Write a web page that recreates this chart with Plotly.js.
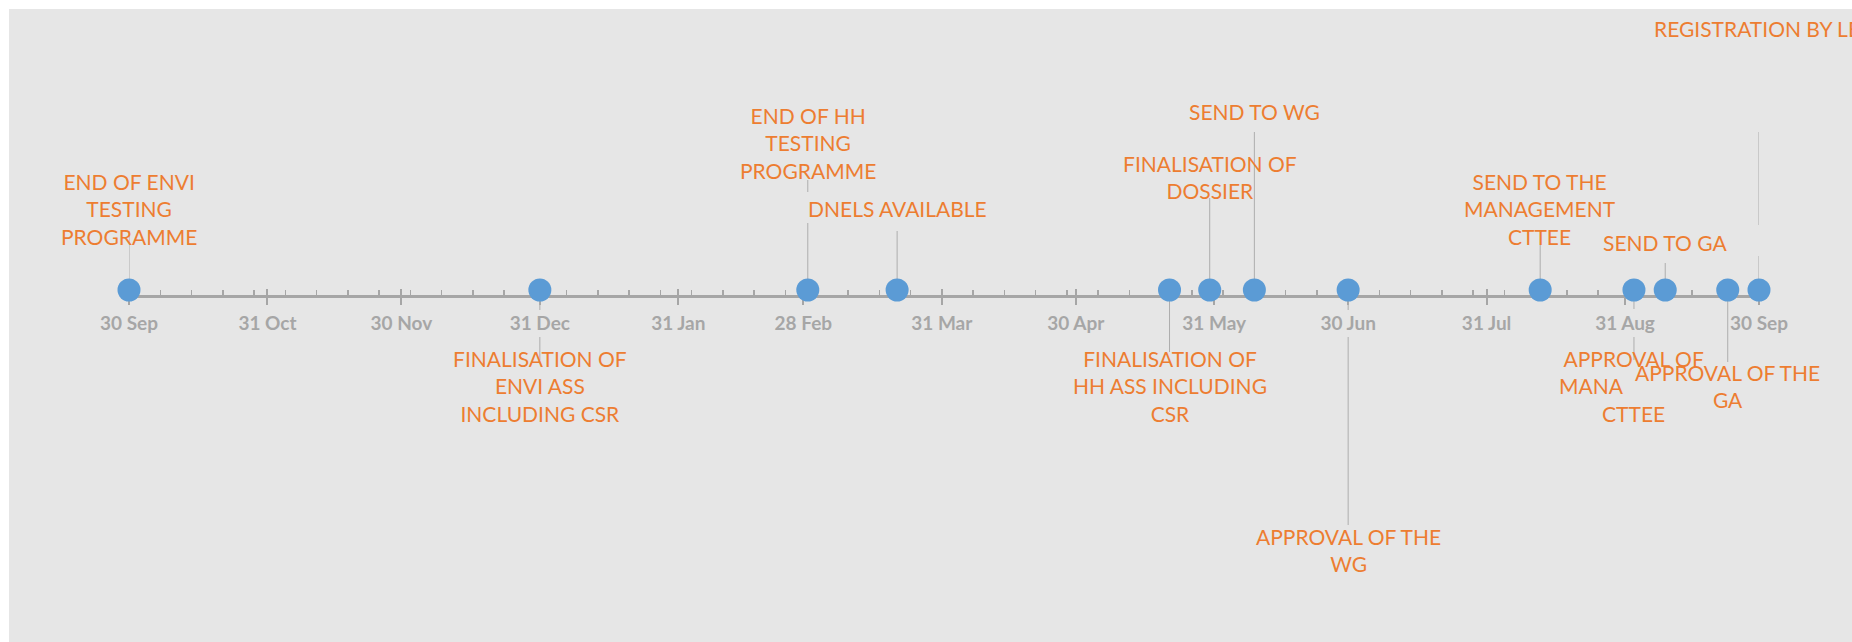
<!DOCTYPE html>
<html>
<head>
<meta charset="utf-8">
<script src="https://cdn.plot.ly/plotly-3.0.1.min.js"></script>
<style>
  html, body { margin: 0; padding: 0; background: #ffffff; width: 1852px; height: 642px; overflow: hidden; }
  #chart { position: absolute; left: 9px; top: 9px; width: 1843px; height: 633px; }
</style>
</head>
<body>
<div id="chart"></div>
<script>
// Milestones of the registration timeline
const eventDates = [
  '2016-09-30', '2016-12-31', '2017-03-01', '2017-03-21', '2017-05-21',
  '2017-05-30', '2017-06-09', '2017-06-30', '2017-08-12', '2017-09-02',
  '2017-09-09', '2017-09-23', '2017-09-30'
];
const NB = '\u00a0';
const eventLabels = [
  'END OF ENVI<br>TESTING<br>PROGRAMME',
  'FINALISATION OF<br>ENVI ASS<br>INCLUDING CSR',
  'END OF HH<br>TESTING<br>PROGRAMME',
  'DNELS AVAILABLE',
  'FINALISATION OF<br>HH ASS INCLUDING<br>CSR',
  'FINALISATION OF<br>DOSSIER',
  'SEND TO WG',
  'APPROVAL OF THE<br>WG',
  'SEND TO THE<br>MANAGEMENT<br>CTTEE',
  'APPROVAL OF<br>MANA' + NB.repeat(16) + '<br>CTTEE',
  'SEND TO GA',
  'APPROVAL OF THE<br>GA',
  'REGISTRATION BY LEAD REGISTRANT'
];

// Month-end ticks of the time axis
const tickDates = [
  '2016-09-30', '2016-10-31', '2016-11-30', '2016-12-31', '2017-01-31', '2017-02-28',
  '2017-03-31', '2017-04-30', '2017-05-31', '2017-06-30', '2017-07-31', '2017-08-31', '2017-09-30'
];
const tickLabels = [
  '30 Sep', '31 Oct', '30 Nov', '31 Dec', '31 Jan', '28 Feb',
  '31 Mar', '30 Apr', '31 May', '30 Jun', '31 Jul', '31 Aug', '30 Sep'
];

// Caption placement: offset in px from the axis (negative = below the axis)
const labelPlacement = [
  { y: 81 }, { y: -96 }, { y: 147 }, { y: 82 }, { y: -96 }, { y: 113 }, { y: 179 },
  { y: -260 }, { y: 81 }, { y: -96 }, { y: 48 }, { y: -96 },
  { y: 262, xanchor: 'left', xshift: -107 }
];
// Leader line pieces for each milestone, [from, to] offsets in px
const leaderPieces = [
  [[0, 59]],
  [[0, -20], [-47, -70]],
  [[0, 67], [98, 110]],
  [[0, 59]],
  [[0, -62]],
  [[0, 92]],
  [[0, 158]],
  [[0, -20], [-47, -235]],
  [[0, 45]],
  [[0, -19], [-47, -70]],
  [[0, 27]],
  [[0, -72]],
  [[0, 34], [65, 158]]
];

const axisRange = ['2016-09-30', '2017-09-30'];
const axisPos = 0.5466;
const axisColor = '#A6A6A6';
const labelColor = '#ED7D31';
const markerColor = '#5B9BD5';

const leaderX = [], leaderY = [];
eventDates.forEach((d, i) => {
  leaderPieces[i].forEach(([a, b]) => {
    leaderX.push(d, d, null);
    leaderY.push(a, b, null);
  });
});

const leaders = {
  type: 'scatter', mode: 'lines', x: leaderX, y: leaderY,
  xaxis: 'x', yaxis: 'y', cliponaxis: false, hoverinfo: 'skip',
  line: { color: '#ADADAD', width: 1 }
};
const milestones = {
  type: 'scatter', mode: 'markers', x: eventDates, y: eventDates.map(() => 0),
  xaxis: 'x2', yaxis: 'y', cliponaxis: false, hoverinfo: 'skip',
  marker: { size: 23, color: markerColor, line: { width: 0 } }
};

const annotations = eventDates.map((d, i) => {
  const p = labelPlacement[i];
  return {
    xref: 'x', yref: 'y', x: d, y: p.y, text: eventLabels[i],
    showarrow: false, xanchor: p.xanchor || 'center', yanchor: 'middle',
    xshift: p.xshift || 0, align: 'center',
    font: { family: 'Lato, sans-serif', size: 21, color: labelColor }
  };
});

const layout = {
  width: 1843, height: 633,
  margin: { l: 120, r: 93, t: 0, b: 0, pad: 0 },
  paper_bgcolor: '#E6E6E6', plot_bgcolor: 'rgba(0,0,0,0)',
  showlegend: false,
  font: { family: 'Lato, sans-serif' },
  xaxis: {
    type: 'date', range: axisRange, anchor: 'free', position: axisPos,
    showline: true, linecolor: axisColor, linewidth: 3, layer: 'below traces',
    showgrid: false, zeroline: false, fixedrange: true, automargin: false,
    tickmode: 'array', tickvals: tickDates, ticktext: tickLabels,
    ticks: 'outside', ticklen: 7, tickwidth: 2, tickcolor: axisColor,
    ticklabelstandoff: 2,
    tickfont: { family: 'Lato, sans-serif', size: 19, color: '#A6A6A6', weight: 'bold' },
    minor: {
      tickmode: 'linear', tick0: '2016-09-30', dtick: 7 * 86400000,
      ticks: 'inside', ticklen: 5, tickwidth: 1.5, tickcolor: axisColor, showgrid: false
    }
  },
  xaxis2: {
    type: 'date', range: axisRange, overlaying: 'x', anchor: 'free', position: axisPos,
    showline: false, showgrid: false, zeroline: false, fixedrange: true, automargin: false,
    tickmode: 'array', tickvals: tickDates, ticks: 'inside', ticklen: 7, tickwidth: 2,
    tickcolor: axisColor, showticklabels: false, layer: 'below traces'
  },
  yaxis: { range: [-352, 281], visible: false, fixedrange: true },
  annotations: annotations
};

Plotly.newPlot('chart', [leaders, milestones], layout, { displayModeBar: false, staticPlot: true });
</script>
</body>
</html>
